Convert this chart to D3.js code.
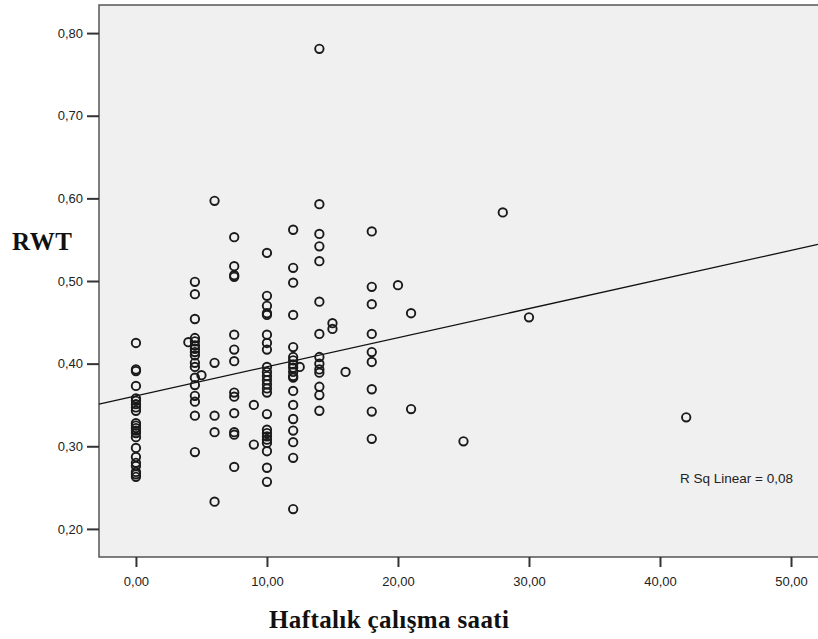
<!DOCTYPE html>
<html>
<head>
<meta charset="utf-8">
<script src="https://cdn.jsdelivr.net/npm/d3@7"></script>
<style>
  body { margin: 0; background: #fff; }
  .tick text { font-family: Arial, "Liberation Sans", sans-serif; font-size: 13px; fill: #222; }
  .title { font-family: "Liberation Serif", "Times New Roman", serif; font-weight: bold; fill: #111; }
</style>
</head>
<body>
<div id="chart"></div>
<script>
// hours worked per week (x) -> RWT values, column by column
const h0 = [0.425, 0.393, 0.391, 0.373, 0.358, 0.355, 0.351, 0.347, 0.343, 0.328, 0.325, 0.322,
            0.319, 0.316, 0.311, 0.298, 0.287, 0.280, 0.276, 0.269, 0.266, 0.263];
const h4 = [0.426];
const h45 = [0.499, 0.484, 0.454, 0.431, 0.427, 0.422, 0.418, 0.414, 0.410, 0.401, 0.396, 0.383,
             0.374, 0.361, 0.354, 0.337, 0.293];
const h5 = [0.386];
const h6 = [0.597, 0.401, 0.337, 0.317, 0.233];
const h75 = [0.553, 0.518, 0.507, 0.505, 0.435, 0.417, 0.403, 0.365, 0.360, 0.340, 0.317, 0.314, 0.275];
const h9 = [0.350, 0.302];
const h10 = [0.534, 0.482, 0.470, 0.461, 0.459, 0.435, 0.425, 0.417, 0.396, 0.390, 0.385, 0.380,
             0.375, 0.370, 0.365, 0.339, 0.320, 0.316, 0.312, 0.308, 0.304, 0.294, 0.274, 0.257];
const h12 = [0.562, 0.516, 0.498, 0.459, 0.420, 0.408, 0.404, 0.399, 0.395, 0.390, 0.385, 0.383,
             0.367, 0.350, 0.333, 0.319, 0.305, 0.286, 0.224];
const h125 = [0.396];
const h14 = [0.781, 0.593, 0.557, 0.542, 0.524, 0.475, 0.436, 0.408, 0.400, 0.393, 0.389, 0.372,
             0.362, 0.343];
const h15 = [0.449, 0.442];
const h16 = [0.390];
const h18 = [0.560, 0.493, 0.472, 0.436, 0.414, 0.402, 0.369, 0.342, 0.309];
const h20 = [0.495];
const h21 = [0.461, 0.345];
const h25 = [0.306];
const h28 = [0.583];
const h30 = [0.456];
const h42 = [0.335];

const columns = [[0, h0], [4, h4], [4.5, h45], [5, h5], [6, h6], [7.5, h75], [9, h9], [10, h10],
                 [12, h12], [12.5, h125], [14, h14], [15, h15], [16, h16], [18, h18], [20, h20],
                 [21, h21], [25, h25], [28, h28], [30, h30], [42, h42]];

const xTicks = [0, 10, 20, 30, 40, 50];
const yTicks = [0.2, 0.3, 0.4, 0.5, 0.6, 0.7, 0.8];

// linear fit line
const fitIntercept = 0.361;
const fitSlope = 0.00352;
const rsqLabel = "R Sq Linear = 0,08";

const width = 818, height = 639;
const margin = {top: 5, right: 0, bottom: 82, left: 99};

let points = [];
columns.forEach(c => c[1].forEach(v => points.push({x: c[0], y: v})));

let svg = d3.select("#chart").append("svg")
  .attr("width", width)
  .attr("height", height);

let x = d3.scaleLinear().domain([-2.82, 52.06]).range([margin.left, width - margin.right]);
let y = d3.scaleLinear().domain([0.166, 0.834]).range([height - margin.bottom, margin.top]);

let comma = d => d3.format(".2f")(d).replace(".", ",");

//plot background
svg.append("rect")
  .attr("x", margin.left)
  .attr("y", margin.top)
  .attr("width", width - margin.left - margin.right + 2)
  .attr("height", height - margin.top - margin.bottom)
  .attr("fill", "#f0f0f0")
  .attr("stroke", "#555")
  .attr("stroke-width", 1.5);

//axes
let yAxis = svg.append("g")
  .attr("transform", "translate(" + margin.left + ",0)")
  .call(d3.axisLeft(y).tickValues(yTicks).tickFormat(comma).tickSize(12).tickPadding(4));
yAxis.select(".domain").remove();
yAxis.selectAll(".tick line").attr("stroke", "#333").attr("stroke-width", 2);

let xAxis = svg.append("g")
  .attr("transform", "translate(0," + (height - margin.bottom) + ")")
  .call(d3.axisBottom(x).tickValues(xTicks).tickFormat(comma).tickSize(10).tickPadding(10));
xAxis.select(".domain").remove();
xAxis.selectAll(".tick line").attr("stroke", "#333").attr("stroke-width", 2);

//fit line
let x0 = x.domain()[0], x1 = x.domain()[1];
svg.append("line")
  .attr("x1", x(x0)).attr("y1", y(fitIntercept + fitSlope * x0))
  .attr("x2", x(x1)).attr("y2", y(fitIntercept + fitSlope * x1))
  .attr("stroke", "#111")
  .attr("stroke-width", 1.3);

//points
svg.selectAll("circle.pt")
  .data(points)
  .enter()
  .append("circle")
  .classed("pt", true)
  .attr("cx", d => x(d.x))
  .attr("cy", d => y(d.y))
  .attr("r", 4.2)
  .attr("fill", "none")
  .attr("stroke", "#1a1a1a")
  .attr("stroke-width", 1.9);

svg.append("text")
  .attr("x", 793)
  .attr("y", 483)
  .attr("text-anchor", "end")
  .style("font-family", "Arial, 'Liberation Sans', sans-serif")
  .style("font-size", "13.5px")
  .attr("fill", "#222")
  .text(rsqLabel);

//axis titles
svg.append("text")
  .classed("title", true)
  .attr("x", 389)
  .attr("y", 628)
  .attr("text-anchor", "middle")
  .style("font-size", "25px")
  .attr("textLength", 240)
  .text("Haftalık çalışma saati");

svg.append("text")
  .classed("title", true)
  .attr("x", 12)
  .attr("y", 250)
  .style("font-size", "25px")
  .attr("textLength", 60)
  .text("RWT");
</script>
</body>
</html>
